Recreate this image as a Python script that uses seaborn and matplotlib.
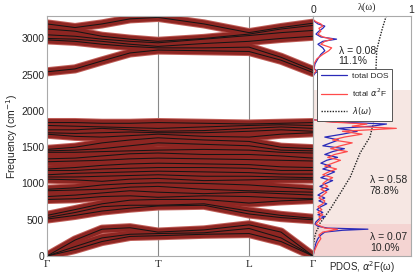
import numpy as np
import pandas as pd
import matplotlib
matplotlib.use("Agg")
import matplotlib.pyplot as plt
import seaborn as sns

# k-path sample positions (Γ, ..., T, ..., L, ..., Γ)
k_pts = [0, 28, 55, 83, 111, 157, 202, 234, 266]
k_ticks = [0, 111, 202, 266]
k_labels = ["Γ", "T", "L", "Γ"]

# C-H stretch bands
upper_bands = [
    [3200, 3150, 3200, 3270, 3290, 3200, 3080, 3150, 3210],
    [3130, 3100, 3030, 2990, 2960, 3000, 3060, 3130, 3180],
    [3050, 3030, 2990, 2960, 2940, 2990, 3040, 3080, 3110],
    [3000, 2990, 2960, 2920, 2890, 2930, 2960, 3000, 3030],
    [2980, 2960, 2920, 2890, 2870, 2870, 2880, 2740, 2560],
    [2540, 2580, 2690, 2800, 2840, 2830, 2820, 2700, 2530],
]

# optical bands
middle_bands = [
    [1840, 1840, 1830, 1830, 1840, 1830, 1820, 1830, 1840],
    [1800, 1790, 1780, 1770, 1760, 1780, 1800, 1810, 1800],
    [1740, 1740, 1760, 1740, 1720, 1730, 1760, 1780, 1760],
    [1700, 1690, 1700, 1710, 1700, 1700, 1720, 1740, 1720],
    [1680, 1650, 1640, 1660, 1680, 1650, 1640, 1680, 1700],
    [1470, 1500, 1560, 1600, 1630, 1600, 1580, 1500, 1480],
    [1450, 1460, 1480, 1520, 1560, 1540, 1520, 1460, 1450],
    [1430, 1430, 1440, 1450, 1460, 1470, 1460, 1430, 1420],
    [1340, 1350, 1380, 1410, 1420, 1400, 1400, 1380, 1350],
    [1300, 1310, 1320, 1340, 1350, 1340, 1330, 1320, 1310],
    [1200, 1220, 1250, 1270, 1280, 1270, 1260, 1230, 1220],
    [1180, 1180, 1200, 1210, 1220, 1220, 1210, 1180, 1180],
    [1120, 1140, 1150, 1160, 1170, 1160, 1150, 1130, 1130],
    [1090, 1090, 1100, 1110, 1120, 1100, 1100, 1090, 1080],
    [1060, 1050, 1030, 1060, 1070, 1040, 1050, 1060, 1060],
    [920, 940, 980, 1000, 1010, 1000, 980, 950, 920],
    [900, 910, 920, 950, 960, 920, 900, 890, 880],
    [820, 840, 870, 900, 880, 860, 880, 860, 840],
    [780, 790, 820, 830, 810, 830, 820, 800, 790],
    [560, 640, 720, 770, 780, 780, 730, 760, 780],
    [530, 600, 680, 700, 700, 720, 620, 560, 520],
    [510, 560, 620, 660, 690, 700, 580, 530, 500],
]

# acoustic bands
acoustic_bands = [
    [0, 220, 370, 390, 330, 360, 430, 330, 0],
    [0, 130, 250, 300, 310, 320, 380, 250, 0],
    [0, 90, 200, 270, 280, 300, 310, 200, 0],
]

# PDOS / Eliashberg function
pdos_freq = [0, 60, 120, 180, 240, 290, 330, 355, 370, 385, 410, 440, 470,
             510, 540, 570, 600, 640, 680, 720, 760, 800, 840, 880, 920, 960,
             1000, 1040, 1080, 1120, 1160, 1200, 1240, 1280, 1320, 1360, 1400,
             1440, 1480, 1520, 1560, 1600, 1640, 1680, 1720, 1760, 1790, 1820,
             1850, 1880, 2480, 2520, 2550, 2580, 2650, 2720, 2780, 2830, 2870,
             2920, 2960, 2990, 3020, 3060, 3100, 3140, 3170, 3200, 3230, 3260,
             3300]
total_dos = [0, 0.01, 0.02, 0.03, 0.05, 0.08, 0.12, 0.3, 0.56, 0.15, 0.05,
             0.02, 0.03, 0.06, 0.12, 0.05, 0.1, 0.04, 0.08, 0.14, 0.06, 0.12,
             0.05, 0.1, 0.16, 0.07, 0.13, 0.2, 0.08, 0.15, 0.22, 0.1, 0.18,
             0.08, 0.14, 0.25, 0.12, 0.2, 0.32, 0.1, 0.18, 0.26, 0.12, 0.3,
             0.45, 0.25, 0.6, 0.75, 0.2, 0, 0, 0.02, 0.05, 0.01, 0.02, 0.05,
             0.08, 0.12, 0.1, 0.05, 0.1, 0.24, 0.08, 0.03, 0.06, 0.1, 0.12,
             0.05, 0.02, 0, 0]
total_a2f = [0, 0.01, 0.03, 0.05, 0.08, 0.06, 0.1, 0.2, 0.25, 0.12, 0.08,
             0.03, 0.05, 0.08, 0.06, 0.1, 0.05, 0.09, 0.05, 0.1, 0.12, 0.06,
             0.1, 0.14, 0.08, 0.15, 0.1, 0.14, 0.2, 0.1, 0.16, 0.24, 0.12,
             0.2, 0.28, 0.15, 0.22, 0.35, 0.18, 0.28, 0.4, 0.2, 0.32, 0.5,
             0.3, 0.85, 0.4, 0.55, 0.15, 0, 0, 0.01, 0.03, 0.01, 0.01, 0.04,
             0.1, 0.16, 0.19, 0.08, 0.12, 0.2, 0.1, 0.05, 0.08, 0.06, 0.1,
             0.08, 0.03, 0, 0]

lam_freq = [0, 150, 250, 330, 380, 450, 635, 870, 1090, 1420, 1640, 1850,
            2500, 2840, 3000, 3150, 3300]
lam_vals = [0, 0.005, 0.015, 0.03, 0.05, 0.07, 0.17, 0.28, 0.38, 0.48, 0.58,
            0.62, 0.64, 0.65, 0.68, 0.71, 0.745]

# long-form band table
rows = []
for i, band in enumerate(acoustic_bands + middle_bands + upper_bands):
    for k, f in zip(k_pts, band):
        rows.append({"band": i, "k": k, "freq": f})
bands = pd.DataFrame(rows)

sns.set_theme(style="white")
plt.rcParams["font.family"] = ["Liberation Sans", "DejaVu Sans"]

fig = plt.figure(figsize=(4.15, 2.75), dpi=100)
ax = fig.add_axes([0.1133, 0.069, 0.6410, 0.873])
ax2 = fig.add_axes([0.7543, 0.069, 0.2361, 0.873])

fat_red = "#8e2622"

# pinkish rim, fat band, thin band line
sns.lineplot(data=bands, x="k", y="freq", units="band", estimator=None,
             sort=False, color="#c0605a", lw=6.6, ax=ax, solid_capstyle="round")
sns.lineplot(data=bands, x="k", y="freq", units="band", estimator=None,
             sort=False, color=fat_red, lw=5.2, ax=ax, solid_capstyle="round")
sns.lineplot(data=bands, x="k", y="freq", units="band", estimator=None,
             sort=False, color="#151515", lw=0.75, ax=ax)

for kx in k_ticks[1:-1]:
    ax.axvline(kx, color="#888888", lw=0.8, zorder=0)

ax.set_xlim(0, 266)
ax.set_ylim(0, 3310)
ax.set_xticks(k_ticks)
ax.set_xticklabels(k_labels, family=["Liberation Serif", "DejaVu Serif"],
                   fontsize=8)
ax.set_yticks([0, 500, 1000, 1500, 2000, 2500, 3000])
ax.tick_params(axis="y", labelsize=7.5, direction="in", length=3, pad=2,
               color="#888888")
ax.tick_params(axis="x", length=0, pad=3)
ax.set_xlabel("")
ax.set_ylabel("Frequency (cm$^{-1}$)", fontsize=7.5, labelpad=1)
for s in ax.spines.values():
    s.set_color("#aaaaaa")
    s.set_linewidth(0.8)

# PDOS panel
ax2.axhspan(0, 445, color="#f4d4d2", lw=0, zorder=0)
ax2.axhspan(445, 2290, color="#f6e7e3", lw=0, zorder=0)

sns.lineplot(x=total_dos, y=pdos_freq, sort=False, estimator=None,
             color="#2a2ab8", lw=0.9, ax=ax2, label="total DOS")
sns.lineplot(x=total_a2f, y=pdos_freq, sort=False, estimator=None,
             color="#ff4a4a", lw=0.9, ax=ax2, label="total $\\alpha^2$F")
ax2.plot(lam_vals, lam_freq, color="#222222", lw=1.0, ls=(0, (1, 1)),
         label="$\\lambda(\\omega)$", zorder=1)

ax2.set_xlim(0, 1)
ax2.set_ylim(0, 3310)
ax2.set_yticks([0, 500, 1000, 1500, 2000, 2500, 3000])
ax2.set_yticklabels([])
ax2.tick_params(axis="y", direction="in", length=2, color="#888888")
ax2.xaxis.tick_top()
ax2.set_xticks([0, 1])
ax2.set_xticklabels(["0", "1"])
ax2.tick_params(axis="x", labelsize=7.5, length=0, pad=1)
ax2.set_ylabel("")
ax2.set_xlabel("")
ax2.text(0.55, 1.015, "λ(ω)", transform=ax2.transAxes, ha="center",
         va="bottom", fontsize=7.5, family=["Liberation Serif", "DejaVu Serif"])
ax2.text(0.5, -0.012, "PDOS, $\\alpha^2$F(ω)", transform=ax2.transAxes,
         ha="center", va="top", fontsize=7)
for s in ax2.spines.values():
    s.set_color("#aaaaaa")
    s.set_linewidth(0.8)

leg = ax2.legend(loc="upper left", bbox_to_anchor=(0.04, 0.78), fontsize=6,
                 frameon=True, fancybox=False, handlelength=3.2,
                 borderpad=0.45, labelspacing=0.75, handletextpad=0.5,
                 borderaxespad=0, framealpha=1)
leg.get_frame().set_edgecolor("#555555")
leg.get_frame().set_linewidth(0.7)
leg.set_zorder(5)

ax2.text(0.26, 2900, "λ = 0.08\n11.1%", fontsize=7.5, va="top",
         linespacing=1.1)
ax2.text(0.58, 1120, "λ = 0.58\n78.8%", fontsize=7.5, va="top",
         linespacing=1.1)
ax2.text(0.58, 335, "λ = 0.07\n10.0%", fontsize=7.5, va="top",
         linespacing=1.1)

fig.savefig("out.png", dpi=100)
